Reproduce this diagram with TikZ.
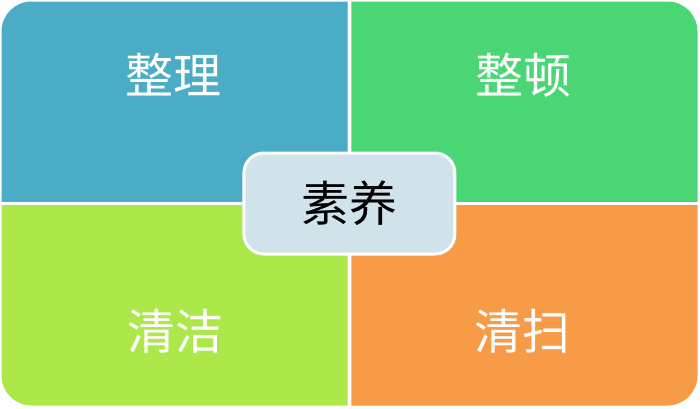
\documentclass[tikz,border=0pt]{standalone}
\usepackage{fontspec}
\newfontfamily\cjk{Noto Sans CJK SC}
\definecolor{sortblue}{HTML}{4BACC6}
\definecolor{ordergreen}{HTML}{4AD674}
\definecolor{cleanlime}{HTML}{ACE84A}
\definecolor{sweeporange}{HTML}{F79B46}
\definecolor{corefill}{HTML}{D0E2EA}
\begin{document}
\begin{tikzpicture}[x=1pt,y=-1pt]
    \tikzset{word/.style={font=\cjk\fontsize{48}{52}\selectfont, text=white, inner sep=0pt},
             core/.style={rectangle, rounded corners=20pt, fill=corefill, draw=white, line width=3pt,
                          minimum width=211pt, minimum height=101pt, font=\cjk\fontsize{48}{52}\selectfont}}
  % parameters
  \def\Cx{349.4}   % vertical gap centre
  \def\Cy{203.5}   % horizontal gap centre
  \def\G{1.9}      % half gap

  \useasboundingbox (0,0) rectangle (700,408);

  % one rounded block, cut into four
  \foreach \xa/\ya/\xb/\yb/\col in {0/0/\Cx-\G/\Cy-\G/sortblue, \Cx+\G/0/700/\Cy-\G/ordergreen,
                                    0/\Cy+\G/\Cx-\G/408/cleanlime, \Cx+\G/\Cy+\G/700/408/sweeporange} {
    \begin{scope}
      \clip (\xa,\ya) rectangle (\xb,\yb);
      \fill[\col, rounded corners=30pt] (1.5,1.5) rectangle (697.5,405.5);
    \end{scope}
  }

  \node[word] (sort)  at (173,75)  {整理};
  \node[word] (order) at (523,75)  {整顿};
  \node[word] (clean) at (175,331) {清洁};
  \node[word] (sweep) at (522,331) {清扫};

  \node[core] (habit) at (\Cx,\Cy) {素养};
\end{tikzpicture}
\end{document}
